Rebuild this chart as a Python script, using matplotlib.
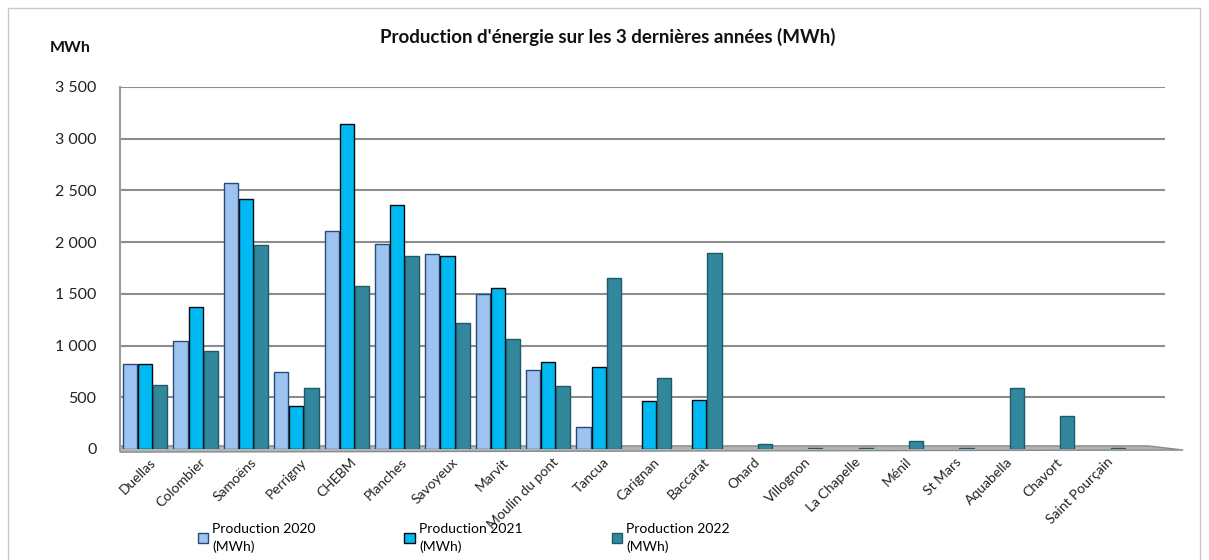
#!/usr/bin/env python3
"""Energy production over the last 3 years, grouped bars per site."""

import matplotlib

matplotlib.use("Agg")

import matplotlib.pyplot as plt
import numpy as np
from matplotlib.patches import Rectangle, Patch, Polygon
from matplotlib.ticker import FuncFormatter


SITES = [
    "Duellas", "Colombier", "Samoëns", "Perrigny", "CHEBM", "Planches",
    "Savoyeux", "Marvit", "Moulin du pont", "Tancua", "Carignan", "Baccarat",
    "Onard", "Villognon", "La Chapelle", "Ménil", "St Mars", "Aquabella",
    "Chavort", "Saint Pourçain",
]
PROD_2020 = [822, 1045, 2572, 745, 2108, 1983, 1886, 1499, 764, 213, 0, 0,
             0, 0, 0, 0, 0, 0, 0, 0]
PROD_2021 = [820, 1373, 2418, 416, 3143, 2360, 1866, 1557, 841, 793, 464, 474,
             0, 0, 0, 0, 0, 0, 0, 0]
PROD_2022 = [619, 948, 1973, 590, 1576, 1866, 1219, 1064, 609, 1654, 687, 1896,
             50, 10, 10, 80, 10, 590, 319, 10]
SERIES = ["Production 2020\n(MWh)", "Production 2021\n(MWh)", "Production 2022\n(MWh)"]

COLORS = ["#9dc3f0", "#00b9f2", "#33879c"]
EDGES = ["#2a4a78", "#0a0a0a", "#1f5a68"]
FONT = ["Lato", "DejaVu Sans"]


def thousands(v, _pos):
    return f"{int(v):,}".replace(",", " ")


def main() -> int:
    plt.rcParams["font.family"] = FONT
    W, H = 1209, 560
    fig = plt.figure(figsize=(W / 100, H / 100), dpi=100)

    # outer frame of the chart area
    fig.patches.append(Rectangle((8 / W, -0.01), (1200 - 8) / W, 1 - 8 / H + 0.01,
                                 transform=fig.transFigure, fill=False,
                                 ec="#c8c8c8", lw=1.0))

    ax = fig.add_axes([120 / W, 1 - 449 / H, (1165 - 120) / W, (449 - 87) / H])
    x = np.arange(len(SITES))
    width = 0.28
    off = 0.30
    for i, vals in enumerate([PROD_2020, PROD_2021, PROD_2022]):
        v = np.array(vals, dtype=float)
        pos = x + (i - 1) * off
        mask = v > 0
        ax.bar(pos[mask], v[mask], width=width, color=COLORS[i], edgecolor=EDGES[i],
               linewidth=1.0, zorder=3)

    ax.set_xlim(-0.5, 20.24)
    ax.set_ylim(0, 3500)
    ax.set_yticks(np.arange(0, 3501, 500))
    ax.yaxis.set_major_formatter(FuncFormatter(thousands))
    ax.grid(axis="y", color="#8c8c8c", lw=1.5, zorder=0)
    ax.set_axisbelow(True)
    for side in ["top", "right", "bottom"]:
        ax.spines[side].set_visible(False)
    ax.spines["left"].set_color("#9a9a9a")
    ax.spines["left"].set_linewidth(1.5)
    ax.tick_params(axis="y", length=0, pad=17, labelsize=11.5, colors="#222222")
    ax.tick_params(axis="x", length=0, pad=5)

    # thin grey floor, slightly slanted like the 3D original
    floor = Polygon([(-0.5, 30), (19.9, 30), (20.6, -10), (-0.5, -30)], closed=True,
                    fc="#b4b4b4", ec="#8a8a8a", lw=1.0, clip_on=False, zorder=2)
    ax.add_patch(floor)
    ax.set_xticks(x + 0.08)
    ax.set_xticklabels(SITES, rotation=45, ha="right", rotation_mode="anchor",
                       fontsize=10, color="#222222")

    fig.text(608 / W, 1 - 37 / H, "Production d'énergie sur les 3 dernières années (MWh)",
             ha="center", va="center", fontsize=13.5, fontweight="bold", color="#111111")
    fig.text(70 / W, 1 - 48 / H, "MWh", ha="center", va="center", fontsize=11.5,
             fontweight="bold", color="#111111")

    handles = [Patch(facecolor=COLORS[i], edgecolor=EDGES[i], lw=1.0) for i in range(3)]
    leg = fig.legend(handles, SERIES, ncol=3, loc="center left",
                     bbox_to_anchor=(185 / W, 1 - 538 / H),
                     frameon=False, fontsize=10, handlelength=0.75, handleheight=0.75,
                     handletextpad=0.3, columnspacing=6.4)
    for t in leg.get_texts():
        t.set_linespacing(1.45)

    fig.savefig("out.png", dpi=100)
    plt.close(fig)
    return 0


if __name__ == "__main__":
    raise SystemExit(main())
